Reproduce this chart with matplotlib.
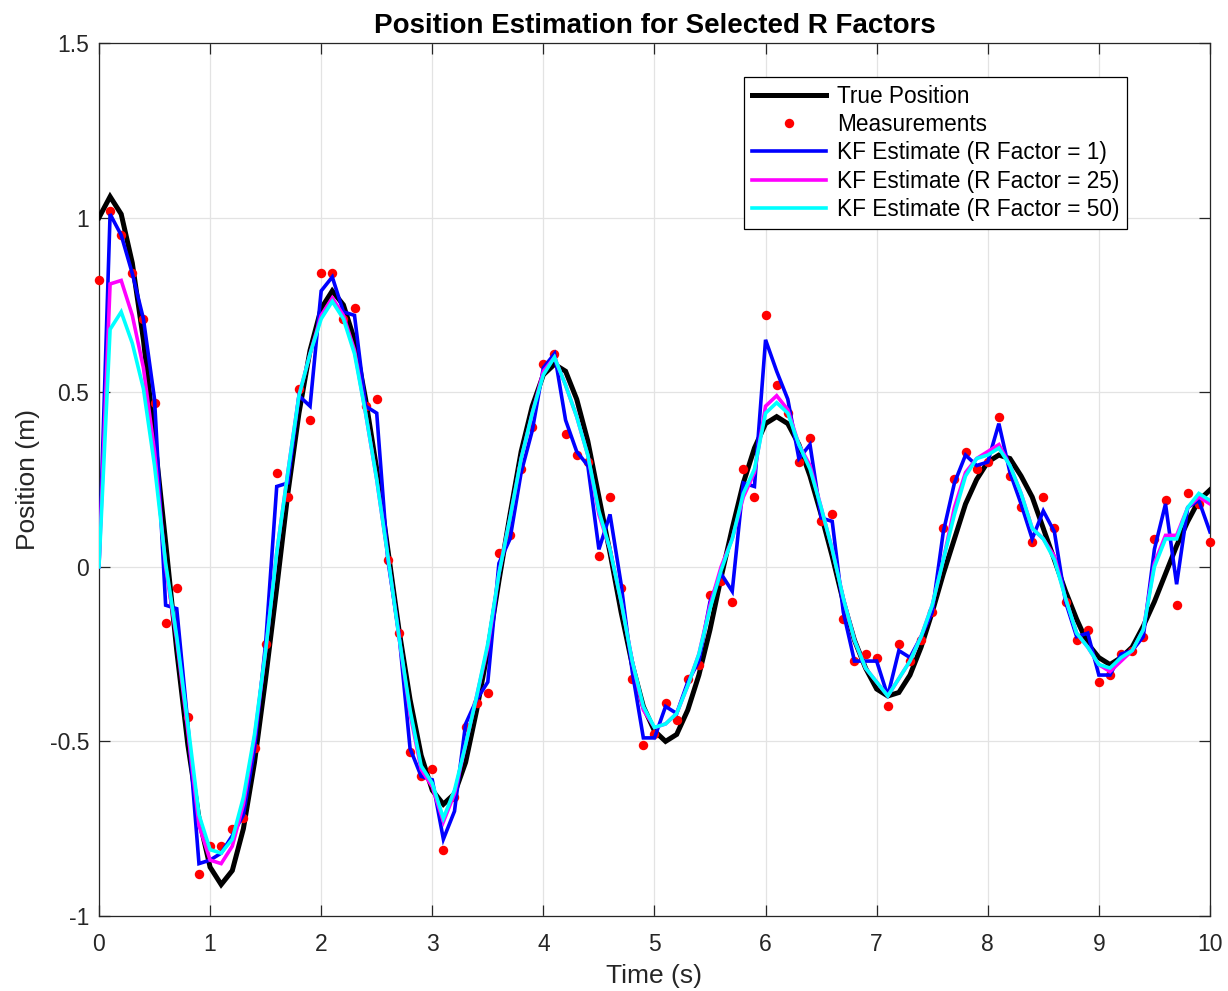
import numpy as np
import matplotlib
matplotlib.use("Agg")
import matplotlib.pyplot as plt

plt.rcParams['font.family'] = ['Liberation Sans', 'DejaVu Sans']
plt.rcParams['axes.unicode_minus'] = False

# Sample times (s)
time_s = np.round(np.arange(0, 10.0001, 0.1), 1)

true_position = [
    1.00, 1.06, 1.01, 0.87, 0.65, 0.37, 0.07, -0.24, -0.51, -0.72,
    -0.86, -0.91, -0.87, -0.75, -0.56, -0.32, -0.06, 0.21, 0.44, 0.62,
    0.74, 0.79, 0.75, 0.65, 0.48, 0.28, 0.05, -0.18, -0.38, -0.54,
    -0.64, -0.68, -0.65, -0.56, -0.41, -0.24, -0.04, 0.15, 0.33, 0.46,
    0.55, 0.58, 0.56, 0.48, 0.36, 0.20, 0.04, -0.13, -0.28, -0.40,
    -0.47, -0.50, -0.48, -0.41, -0.31, -0.18, -0.03, 0.11, 0.24, 0.34,
    0.41, 0.43, 0.41, 0.35, 0.26, 0.15, 0.03, -0.10, -0.21, -0.29,
    -0.35, -0.37, -0.36, -0.31, -0.23, -0.13, -0.02, 0.08, 0.18, 0.25,
    0.30, 0.32, 0.31, 0.26, 0.20, 0.11, 0.02, -0.07, -0.15, -0.22,
    -0.26, -0.28, -0.26, -0.23, -0.17, -0.10, -0.02, 0.06, 0.13, 0.19,
    0.22,
]

measurements = [
    0.82, 1.02, 0.95, 0.84, 0.71, 0.47, -0.16, -0.06, -0.43, -0.88,
    -0.80, -0.80, -0.75, -0.72, -0.52, -0.22, 0.27, 0.20, 0.51, 0.42,
    0.84, 0.84, 0.71, 0.74, 0.46, 0.48, 0.02, -0.19, -0.53, -0.60,
    -0.58, -0.81, -0.66, -0.46, -0.39, -0.36, 0.04, 0.09, 0.28, 0.40,
    0.58, 0.61, 0.38, 0.32, 0.30, 0.03, 0.20, -0.06, -0.32, -0.51,
    -0.48, -0.39, -0.44, -0.32, -0.28, -0.08, -0.04, -0.10, 0.28, 0.20,
    0.72, 0.52, 0.44, 0.30, 0.37, 0.13, 0.15, -0.15, -0.27, -0.25,
    -0.26, -0.40, -0.22, -0.27, -0.21, -0.13, 0.11, 0.25, 0.33, 0.28,
    0.30, 0.43, 0.26, 0.17, 0.07, 0.20, 0.11, -0.10, -0.21, -0.18,
    -0.33, -0.31, -0.25, -0.24, -0.20, 0.08, 0.19, -0.11, 0.21, 0.18,
    0.07,
]

kf_r1 = [
    0.00, 1.01, 0.95, 0.84, 0.71, 0.48, -0.11, -0.12, -0.45, -0.85,
    -0.84, -0.82, -0.77, -0.71, -0.52, -0.22, 0.23, 0.24, 0.49, 0.46,
    0.79, 0.83, 0.73, 0.72, 0.46, 0.44, 0.02, -0.19, -0.52, -0.60,
    -0.61, -0.78, -0.70, -0.45, -0.38, -0.33, 0.01, 0.08, 0.27, 0.39,
    0.57, 0.61, 0.42, 0.33, 0.29, 0.05, 0.15, -0.05, -0.30, -0.49,
    -0.49, -0.40, -0.42, -0.33, -0.27, -0.10, -0.02, -0.07, 0.24, 0.23,
    0.65, 0.56, 0.48, 0.31, 0.35, 0.14, 0.13, -0.13, -0.27, -0.27,
    -0.27, -0.37, -0.24, -0.26, -0.20, -0.13, 0.10, 0.24, 0.32, 0.29,
    0.30, 0.41, 0.27, 0.18, 0.08, 0.16, 0.10, -0.10, -0.20, -0.19,
    -0.31, -0.31, -0.25, -0.24, -0.20, 0.05, 0.18, -0.05, 0.17, 0.19,
    0.10,
]

kf_r25 = [
    0.00, 0.81, 0.82, 0.72, 0.57, 0.33, 0.00, -0.21, -0.47, -0.74,
    -0.84, -0.85, -0.80, -0.68, -0.49, -0.24, 0.04, 0.27, 0.49, 0.61,
    0.72, 0.77, 0.72, 0.62, 0.44, 0.25, 0.03, -0.20, -0.42, -0.58,
    -0.63, -0.73, -0.65, -0.51, -0.37, -0.23, -0.02, 0.14, 0.31, 0.44,
    0.56, 0.60, 0.52, 0.43, 0.32, 0.15, 0.05, -0.10, -0.27, -0.41,
    -0.46, -0.45, -0.42, -0.34, -0.25, -0.11, 0.00, 0.08, 0.20, 0.27,
    0.46, 0.49, 0.45, 0.35, 0.29, 0.17, 0.05, -0.09, -0.21, -0.29,
    -0.33, -0.37, -0.32, -0.27, -0.20, -0.11, 0.02, 0.17, 0.27, 0.31,
    0.33, 0.35, 0.29, 0.21, 0.11, 0.08, 0.03, -0.09, -0.19, -0.23,
    -0.28, -0.30, -0.27, -0.24, -0.18, 0.01, 0.09, 0.09, 0.17, 0.20,
    0.18,
]

kf_r50 = [
    0.00, 0.68, 0.73, 0.64, 0.51, 0.29, 0.01, -0.20, -0.45, -0.71,
    -0.81, -0.82, -0.78, -0.66, -0.48, -0.24, 0.04, 0.27, 0.49, 0.61,
    0.71, 0.76, 0.71, 0.61, 0.44, 0.25, 0.03, -0.20, -0.41, -0.57,
    -0.62, -0.72, -0.64, -0.51, -0.37, -0.22, -0.02, 0.14, 0.31, 0.44,
    0.55, 0.60, 0.52, 0.43, 0.32, 0.16, 0.05, -0.10, -0.27, -0.40,
    -0.46, -0.45, -0.42, -0.34, -0.25, -0.12, -0.01, 0.08, 0.21, 0.28,
    0.44, 0.47, 0.44, 0.35, 0.28, 0.17, 0.05, -0.09, -0.21, -0.29,
    -0.33, -0.37, -0.32, -0.27, -0.20, -0.11, 0.02, 0.15, 0.26, 0.31,
    0.32, 0.34, 0.29, 0.21, 0.11, 0.08, 0.02, -0.09, -0.19, -0.23,
    -0.28, -0.29, -0.26, -0.24, -0.18, 0.00, 0.08, 0.08, 0.17, 0.21,
    0.19,
]

series_labels = [
    'True Position',
    'Measurements',
    'KF Estimate (R Factor = 1)',
    'KF Estimate (R Factor = 25)',
    'KF Estimate (R Factor = 50)',
]

x_ticks = [0, 1, 2, 3, 4, 5, 6, 7, 8, 9, 10]
x_tick_labels = ['0', '1', '2', '3', '4', '5', '6', '7', '8', '9', '10']
y_ticks = [-1, -0.5, 0, 0.5, 1, 1.5]
y_tick_labels = ['-1', '-0.5', '0', '0.5', '1', '1.5']

ink = '#262626'

fig = plt.figure(figsize=(12.28, 9.91), dpi=100)
ax = fig.add_axes([0.0806, 0.0757, 0.9047, 0.8809])

ax.plot(time_s, true_position, color='black', lw=3.6, label=series_labels[0],
        solid_joinstyle='miter', zorder=3)
ax.plot(time_s, measurements, linestyle='none', marker='o', ms=6.8,
        color=(1, 0, 0), markeredgewidth=0, label=series_labels[1],
        clip_on=False, zorder=4)
ax.plot(time_s, kf_r1, color=(0, 0, 1), lw=2.6, label=series_labels[2],
        solid_joinstyle='miter', zorder=5)
ax.plot(time_s, kf_r25, color=(1, 0, 1), lw=2.6, label=series_labels[3],
        solid_joinstyle='miter', zorder=6)
ax.plot(time_s, kf_r50, color=(0, 1, 1), lw=2.6, label=series_labels[4],
        solid_joinstyle='miter', zorder=7)

ax.set_xlim(0, 10)
ax.set_ylim(-1, 1.5)
ax.set_xticks(x_ticks)
ax.set_xticklabels(x_tick_labels)
ax.set_yticks(y_ticks)
ax.set_yticklabels(y_tick_labels)

ax.grid(True, color='#e3e3e3', lw=0.9, zorder=0)
ax.set_axisbelow(True)
for sp in ax.spines.values():
    sp.set_color(ink)
    sp.set_linewidth(0.9)
ax.tick_params(direction='in', length=8, width=0.9, color=ink,
               top=True, right=True, labelsize=16.5, labelcolor=ink)
ax.tick_params(axis='x', pad=12)
ax.tick_params(axis='y', pad=7)

ax.set_xlabel('Time (s)', fontsize=19, color=ink, labelpad=6)
ax.set_ylabel('Position (m)', fontsize=19, color=ink, labelpad=7)
ax.set_title('Position Estimation for Selected R Factors', fontsize=20,
             fontweight='bold', pad=7)

leg = ax.legend(loc='upper right', bbox_to_anchor=(0.925, 0.961),
                fontsize=16.3, frameon=True, fancybox=False, framealpha=1,
                edgecolor='black', handlelength=3.3, handletextpad=0.45,
                labelspacing=0.24, borderpad=0.33, borderaxespad=0,
                numpoints=1)
leg.get_frame().set_linewidth(0.9)

fig.savefig('out.png', dpi=100)
